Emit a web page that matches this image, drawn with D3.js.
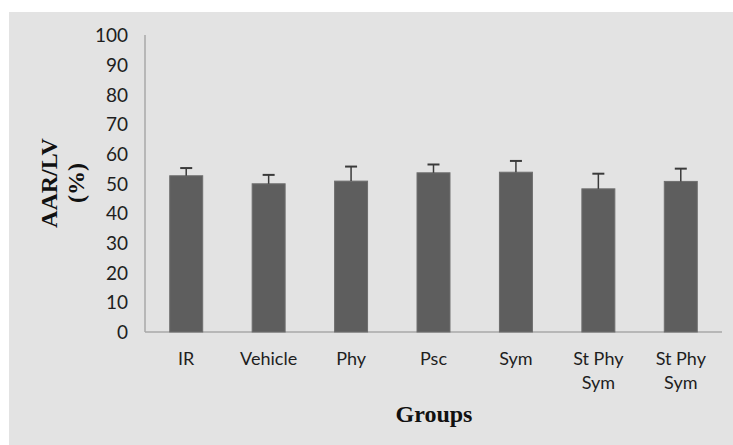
<!DOCTYPE html>
<html>
<head>
<meta charset="utf-8">
<script src="https://cdn.jsdelivr.net/npm/d3@7"></script>
<style>
  html, body { margin: 0; padding: 0; background: #ffffff; }
  svg { display: block; }
</style>
</head>
<body>
<svg id="chart" width="733" height="445"></svg>
<script>
const categories = ["IR", "Vehicle", "Phy", "Psc", "Sym", "St Phy Sym", "St Phy Sym "];
const values = [52.6, 49.9, 50.8, 53.6, 53.8, 48.2, 50.7];
const errors = [2.6, 3.0, 4.9, 2.8, 3.8, 5.1, 4.3];
const yTicks = [0, 10, 20, 30, 40, 50, 60, 70, 80, 90, 100];
const yTitle = ["AAR/LV", "(%)"];
const xTitle = "Groups";

const svg = d3.select("#chart");
svg.append("rect").attr("x", 9).attr("y", 12).attr("width", 724).attr("height", 433).attr("fill", "#e3e3e3");

const x = d3.scaleBand().domain(categories).range([145, 722]).paddingInner(0.6).paddingOuter(0.3);
const y = d3.scaleLinear().domain([0, 100]).range([332, 35]);

// axes lines
svg.append("line").attr("x1", 145).attr("x2", 145).attr("y1", y(100)).attr("y2", y(0))
  .attr("stroke", "#a8a8a8").attr("stroke-width", 1.5);
svg.append("line").attr("x1", 145).attr("x2", 722).attr("y1", y(0)).attr("y2", y(0))
  .attr("stroke", "#a8a8a8").attr("stroke-width", 1.5);

// y tick labels
const yAxis = d3.axisLeft(y).tickValues(yTicks).tickSize(0).tickPadding(0);
const gy = svg.append("g").attr("transform", "translate(128,0)").call(yAxis);
gy.select(".domain").remove();
gy.selectAll("text").attr("font-family", "Lato, 'Open Sans', sans-serif").attr("font-size", 19)
  .attr("fill", "#1e1e1e").attr("dy", "0.35em");

// bars
svg.selectAll("rect.bar").data(categories).enter().append("rect").attr("class", "bar")
  .attr("x", d => x(d)).attr("width", x.bandwidth())
  .attr("y", (d, i) => y(values[i])).attr("height", (d, i) => y(0) - y(values[i]))
  .attr("fill", "#5e5e5e").attr("stroke", "#6e6e6e").attr("stroke-width", 1);

// error bars
const eb = svg.append("g");
categories.forEach((c, i) => {
  const cx = x(c) + x.bandwidth() / 2;
  eb.append("line").attr("x1", cx).attr("x2", cx).attr("y1", y(values[i])).attr("y2", y(values[i] + errors[i]))
    .attr("stroke", "#3a3a3a").attr("stroke-width", 1.5);
  eb.append("line").attr("x1", cx - 6).attr("x2", cx + 6).attr("y1", y(values[i] + errors[i])).attr("y2", y(values[i] + errors[i]))
    .attr("stroke", "#3a3a3a").attr("stroke-width", 2);
});

// x labels
const xl = svg.append("g");
categories.forEach(c => {
  const cx = x(c) + x.bandwidth() / 2;
  const t = c.trim();
  const lines = t === "St Phy Sym" ? ["St Phy", "Sym"] : [t];
  lines.forEach((ln, j) => {
    xl.append("text").attr("x", cx).attr("y", 365 + j * 24).attr("text-anchor", "middle")
      .attr("font-family", "Lato, 'Open Sans', sans-serif").attr("font-size", 18)
      .attr("fill", "#1e1e1e").text(ln);
  });
});

// titles
svg.append("text").attr("x", 434).attr("y", 422).attr("text-anchor", "middle")
  .attr("font-family", "'Liberation Serif', 'Times New Roman', serif").attr("font-weight", "bold")
  .attr("font-size", 24).attr("fill", "#111").text(xTitle);

const yt = svg.append("text").attr("transform", "translate(57,183) rotate(-90)").attr("text-anchor", "middle")
  .attr("font-family", "'Liberation Serif', 'Times New Roman', serif").attr("font-weight", "bold")
  .attr("font-size", 24).attr("fill", "#111");
yTitle.forEach((t, j) => {
  yt.append("tspan").attr("x", 0).attr("dy", j === 0 ? 0 : 27).text(t);
});
</script>
</body>
</html>
